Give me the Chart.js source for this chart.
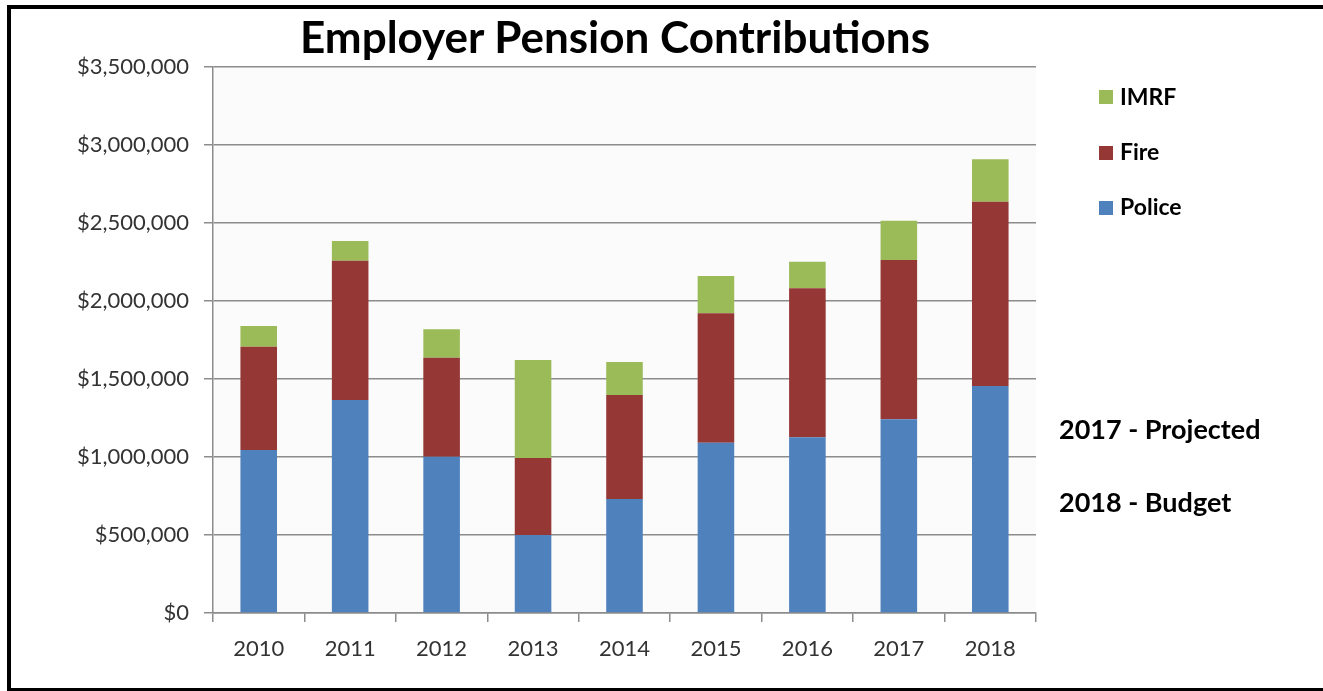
<!DOCTYPE html>
<html>
<head>
<meta charset="utf-8">
<script src="https://cdn.jsdelivr.net/npm/chart.js@4/dist/chart.umd.min.js"></script>
<style>
  html, body { margin: 0; padding: 0; background: #fff; }
  #wrap { position: relative; width: 1323px; height: 691px; overflow: hidden; font-family: Lato, sans-serif; }
  #frame { position: absolute; left: 7px; top: 5px; width: 1340px; height: 687px; border: 4px solid #000; box-sizing: border-box; }
  #chart { position: absolute; left: 0; top: 0; }
  .txt { position: absolute; line-height: 1; font-weight: bold; color: #000; white-space: nowrap; }
  #title { left: 263px; width: 704px; text-align: center; top: 14px; font-size: 44px; }
  .sw { position: absolute; left: 1099px; width: 14px; height: 14px; }
  .lg { left: 1120px; font-size: 23px; }
  .note { left: 1059px; font-size: 27px; }
</style>
</head>
<body>
<div id="wrap">
  <canvas id="chart" width="1323" height="691"></canvas>
  <div id="frame"></div>
  <div id="title" class="txt">Employer Pension Contributions</div>
  <div class="sw" style="top:90px;background:#9bbb59"></div>
  <div class="txt lg" style="top:85px">IMRF</div>
  <div class="sw" style="top:146px;background:#953735"></div>
  <div class="txt lg" style="top:140px">Fire</div>
  <div class="sw" style="top:201px;background:#4f81bd"></div>
  <div class="txt lg" style="top:195px">Police</div>
  <div class="txt note" style="top:415px">2017 - Projected</div>
  <div class="txt note" style="top:488px">2018 - Budget</div>
</div>
<script>
const years = ['2010', '2011', '2012', '2013', '2014', '2015', '2016', '2017', '2018'];
const police = [1045000, 1365000, 1002000, 500000, 731000, 1092000, 1126000, 1242000, 1455000];
const fire = [662000, 893000, 635000, 494000, 666000, 829000, 955000, 1021000, 1182000];
const imrf = [133000, 127000, 182000, 628000, 212000, 239000, 171000, 252000, 271000];
const yTicks = [0, 500000, 1000000, 1500000, 2000000, 2500000, 3000000, 3500000];

const GRID = '#8c8c8c';
const TICK_FONT = { family: 'Lato', size: 22 };

// light plot background like the excel chart
const plotBg = {
  id: 'plotBg',
  beforeDraw(chart) {
    const { ctx, chartArea: a } = chart;
    ctx.save();
    ctx.fillStyle = '#fbfbfb';
    ctx.fillRect(a.left, a.top, a.right - a.left, a.bottom - a.top);
    ctx.restore();
  }
};

new Chart(document.getElementById('chart'), {
  type: 'bar',
  data: {
    labels: years,
    datasets: [
      { label: 'Police', data: police, backgroundColor: '#4f81bd' },
      { label: 'Fire', data: fire, backgroundColor: '#953735' },
      { label: 'IMRF', data: imrf, backgroundColor: '#9bbb59' },
    ]
  },
  options: {
    responsive: false,
    animation: false,
    layout: { padding: { top: 67, right: 287, bottom: 0, left: 0 } },
    datasets: { bar: { categoryPercentage: 1, barPercentage: 0.4 } },
    plugins: { legend: { display: false }, tooltip: { enabled: false } },
    scales: {
      x: {
        stacked: true,
        ticks: { color: '#333', font: TICK_FONT, padding: 14 },
        grid: { offset: true, drawOnChartArea: false, color: GRID, lineWidth: 1.5, tickLength: 9 },
        border: { color: GRID, width: 1.5 },
        afterFit: (s) => { s.height = 78; }
      },
      y: {
        stacked: true,
        min: 0,
        max: 3500000,
        afterBuildTicks: (s) => { s.ticks = yTicks.map(v => ({ value: v })); },
        ticks: {
          color: '#333',
          font: TICK_FONT,
          padding: 15,
          callback: (v) => '$' + Number(v).toLocaleString('en-US')
        },
        grid: { color: GRID, lineWidth: 1.5, tickLength: 9 },
        border: { color: GRID, width: 1.5 },
        afterFit: (s) => { s.width = 213; }
      }
    }
  },
  plugins: [plotBg]
});
</script>
</body>
</html>
